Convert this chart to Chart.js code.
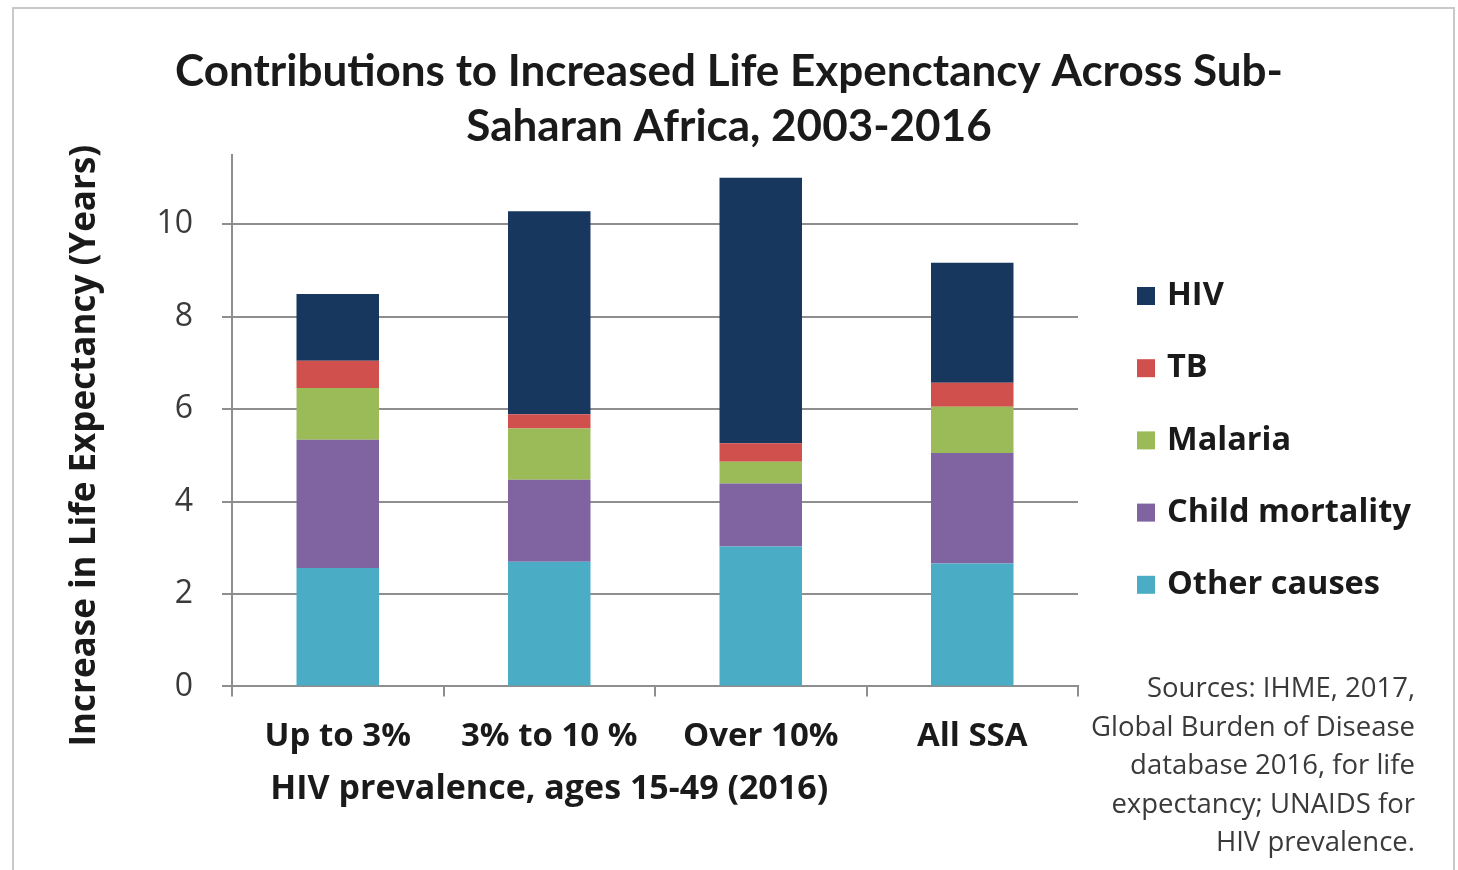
<!DOCTYPE html>
<html>
<head>
<meta charset="utf-8">
<script src="https://cdn.jsdelivr.net/npm/chart.js@4.4.1/dist/chart.umd.min.js"></script>
<style>
  body { margin: 0; background: #fff; }
  #wrap { position: relative; width: 1458px; height: 870px; overflow: hidden; }
  #frame { position: absolute; left: 12px; top: 7px; width: 1443px; height: 900px; border: 2px solid #c9c9c9; box-sizing: border-box; }
  #sources {
    position: absolute; right: 43px; top: 668px;
    text-align: right; font-family: "Open Sans", sans-serif; font-size: 27.5px;
    line-height: 38.5px; color: #3a3a3a;
  }
</style>
</head>
<body>
<div id="wrap">
  <div id="frame"></div>
  <canvas id="chart" width="1458" height="870"></canvas>
  <div id="sources">Sources: IHME, 2017,<br>Global Burden of Disease<br>database 2016, for life<br>expectancy; UNAIDS for<br>HIV prevalence.</div>
</div>
<script>
// categories and stacked values (years)
const categories = ['Up to 3%', '3% to 10 %', 'Over 10%', 'All SSA'];
const otherCauses = [2.56, 2.70, 3.03, 2.66];
const childMortality = [2.78, 1.77, 1.36, 2.39];
const malaria = [1.12, 1.11, 0.47, 1.00];
const tb = [0.59, 0.31, 0.40, 0.52];
const hiv = [1.44, 4.39, 5.75, 2.60];
const yTicks = [0, 2, 4, 6, 8, 10];

const labelFont = '"Open Sans", sans-serif';
const axisGray = '#8e8e8e';
const textColor = '#1a1a1a';

// axis titles and legend, placed relative to the plot area
const extrasPlugin = {
    id: 'extras',
    afterDraw(chart) {
        const ctx = chart.ctx;
        const area = chart.chartArea;
        ctx.save();
        ctx.fillStyle = textColor;
        ctx.textBaseline = 'middle';

        // x axis title, under the first three groups
        ctx.font = 'bold 34px ' + labelFont;
        ctx.textAlign = 'center';
        ctx.fillText('HIV prevalence, ages 15-49 (2016)', chart.scales.x.getPixelForValue(1), area.bottom + 103);

        // y axis title
        ctx.save();
        ctx.translate(area.left - 147, (area.top + area.bottom) / 2 + 25);
        ctx.rotate(-Math.PI / 2);
        ctx.font = 'bold 35px ' + labelFont;
        ctx.fillText('Increase in Life Expectancy (Years)', 0, 0);
        ctx.restore();

        // legend, HIV on top
        ctx.font = 'bold 32.5px ' + labelFont;
        ctx.textAlign = 'left';
        const sets = chart.data.datasets.slice().reverse();
        sets.forEach((ds, i) => {
            const y = area.top + 141 + i * 72.2;
            const x = area.right + 59;
            ctx.fillStyle = ds.backgroundColor;
            ctx.fillRect(x, y - 9, 18, 18);
            ctx.fillStyle = textColor;
            ctx.fillText(ds.label, x + 30, y);
        });
        ctx.restore();
    }
};

const ctx = document.getElementById('chart').getContext('2d');
new Chart(ctx, {
    type: 'bar',
    data: {
        labels: categories,
        datasets: [
            { label: 'Other causes', data: otherCauses, backgroundColor: '#4bacc6' },
            { label: 'Child mortality', data: childMortality, backgroundColor: '#8064a2' },
            { label: 'Malaria', data: malaria, backgroundColor: '#9bbb59' },
            { label: 'TB', data: tb, backgroundColor: '#d0504d' },
            { label: 'HIV', data: hiv, backgroundColor: '#17375e' }
        ]
    },
    options: {
        responsive: false,
        animation: false,
        layout: { padding: { left: 0, right: 0, top: 0, bottom: 94 } },
        datasets: { bar: { categoryPercentage: 1, barPercentage: 0.39 } },
        plugins: {
            title: {
                display: true,
                text: ['Contributions to Increased Life Expenctancy Across Sub-', 'Saharan Africa, 2003-2016'],
                font: { family: 'Lato, sans-serif', size: 44, weight: 'bold', lineHeight: 1.25 },
                color: textColor,
                padding: { top: 44, bottom: 1 }
            },
            legend: { display: false },
            tooltip: { enabled: false }
        },
        scales: {
            x: {
                stacked: true,
                grid: { drawOnChartArea: false, drawTicks: true, tickLength: 10, offset: true, color: axisGray, lineWidth: 2 },
                border: { color: axisGray, width: 2 },
                ticks: { color: textColor, padding: 20, font: { family: labelFont, size: 33, weight: 'bold' } }
            },
            y: {
                stacked: true,
                min: 0,
                max: 11.5,
                afterBuildTicks: (s) => { s.ticks = yTicks.map(v => ({ value: v })); },
                afterFit: (s) => { s.width = 232; },
                grid: { color: axisGray, lineWidth: 2, tickLength: 10 },
                border: { color: axisGray, width: 2 },
                ticks: { color: '#3a3a3a', padding: 29, font: { family: labelFont, size: 32 } }
            },
            // empty space right of the plot for the legend and sources
            gap: {
                position: 'right',
                display: true,
                grid: { display: false },
                border: { display: false },
                ticks: { display: false },
                afterFit: (s) => { s.width = 380; }
            }
        }
    },
    plugins: [extrasPlugin]
});
</script>
</body>
</html>
